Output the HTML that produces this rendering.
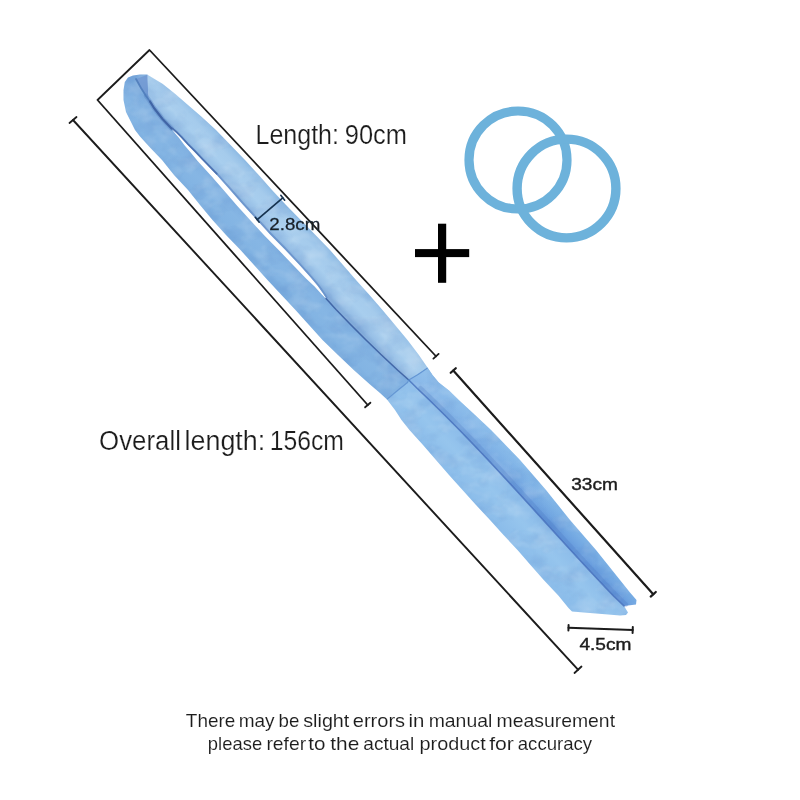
<!DOCTYPE html>
<html lang="en">
<head>
<meta charset="utf-8">
<title>Product size guide</title>
<style>
  html, body { margin: 0; padding: 0; background: #ffffff; }
  body { width: 800px; height: 800px; overflow: hidden; font-family: "Liberation Sans", sans-serif; }
  svg { display: block; position: absolute; left: 0; top: 0; }
  text { font-family: "Liberation Sans", sans-serif; fill: #1c1c1c; }
</style>
</head>
<body>
<svg width="800" height="800" viewBox="0 0 800 800">
  <defs>
    <!-- fabric: mottled texture + slight softness -->
    <filter id="fabric" x="0" y="0" width="800" height="800" filterUnits="userSpaceOnUse" color-interpolation-filters="sRGB">
      <feTurbulence type="fractalNoise" baseFrequency="0.045 0.06" numOctaves="3" seed="11" result="n"/>
      <feColorMatrix in="n" type="matrix" values="0 0 0 0 1  0 0 0 0 1  0 0 0 0 1  0.42 0 0 0 -0.19" result="hi"/>
      <feColorMatrix in="n" type="matrix" values="0 0 0 0 0.25  0 0 0 0 0.42  0 0 0 0 0.72  0 -0.34 0 0 0.185" result="lo"/>
      <feComposite in="hi" in2="SourceGraphic" operator="in" result="hiC"/>
      <feComposite in="lo" in2="SourceGraphic" operator="in" result="loC"/>
      <feMerge result="m"><feMergeNode in="SourceGraphic"/><feMergeNode in="loC"/><feMergeNode in="hiC"/></feMerge>
      <feGaussianBlur in="m" stdDeviation="0.65"/>
    </filter>
    <filter id="gapblur" x="0" y="0" width="800" height="800" filterUnits="userSpaceOnUse">
      <feGaussianBlur stdDeviation="0.75"/>
    </filter>
    <filter id="tubeline" x="0" y="0" width="800" height="800" filterUnits="userSpaceOnUse">
      <feGaussianBlur stdDeviation="0.5"/>
    </filter>
    <filter id="soft" x="-5%" y="-5%" width="110%" height="110%">
      <feGaussianBlur stdDeviation="0.55"/>
    </filter>
    <filter id="pen" x="0" y="0" width="800" height="800" filterUnits="userSpaceOnUse">
      <feTurbulence type="fractalNoise" baseFrequency="0.028" numOctaves="1" seed="5" result="w"/>
      <feDisplacementMap in="SourceGraphic" in2="w" scale="1.7" xChannelSelector="R" yChannelSelector="G" result="d"/>
      <feGaussianBlur in="d" stdDeviation="0.35"/>
    </filter>
    <filter id="softline" x="-5%" y="-5%" width="110%" height="110%">
      <feGaussianBlur stdDeviation="0.35"/>
    </filter>
    <filter id="softtext" x="-5%" y="-20%" width="110%" height="140%">
      <feGaussianBlur stdDeviation="0.3"/>
    </filter>
    <!-- across-strip shading (perpendicular to the tube direction) -->
    <linearGradient id="gLowerS1" gradientUnits="userSpaceOnUse" x1="234" y1="238" x2="257" y2="216.5">
      <stop offset="0" stop-color="#7dafe0"/>
      <stop offset="0.15" stop-color="#83b4e3"/>
      <stop offset="0.5" stop-color="#86b6e4"/>
      <stop offset="0.85" stop-color="#80b0e1"/>
      <stop offset="1" stop-color="#79a9dc"/>
    </linearGradient>
    <linearGradient id="gUpperS1" gradientUnits="userSpaceOnUse" x1="250" y1="212" x2="273" y2="190.5">
      <stop offset="0" stop-color="#86afdc"/>
      <stop offset="0.12" stop-color="#97bfe6"/>
      <stop offset="0.4" stop-color="#a8ceee"/>
      <stop offset="0.7" stop-color="#a5cbec"/>
      <stop offset="0.9" stop-color="#98c2e8"/>
      <stop offset="1" stop-color="#8ebae3"/>
    </linearGradient>
    <linearGradient id="gUpperS2" gradientUnits="userSpaceOnUse" x1="520" y1="493" x2="536" y2="478">
      <stop offset="0" stop-color="#6599dc"/>
      <stop offset="0.3" stop-color="#70a5e1"/>
      <stop offset="0.6" stop-color="#79aee4"/>
      <stop offset="1" stop-color="#84b8e8"/>
    </linearGradient>
    <linearGradient id="gLowerS2" gradientUnits="userSpaceOnUse" x1="500" y1="527" x2="528" y2="501">
      <stop offset="0" stop-color="#8cbdea"/>
      <stop offset="0.5" stop-color="#96c5ed"/>
      <stop offset="1" stop-color="#8bbbe9"/>
    </linearGradient>
    <!-- along-tube fade for section 2 upper strip: light near seam, dark to the end -->
    <linearGradient id="gAlongS2" gradientUnits="userSpaceOnUse" x1="420" y1="375" x2="555" y2="520">
      <stop offset="0" stop-color="#9ac6ee" stop-opacity="0.7"/>
      <stop offset="0.45" stop-color="#9ac6ee" stop-opacity="0.35"/>
      <stop offset="1" stop-color="#9ac6ee" stop-opacity="0"/>
    </linearGradient>
  </defs>
  <rect x="0" y="0" width="800" height="800" fill="#ffffff"/>

  <!-- ===== fabric tube ===== -->
  <g id="tube" filter="url(#fabric)">
    <path id="lowerS1" fill="url(#gLowerS1)" d="M147,74.6 L140,74.6 L133,75.6 L128,77.6 L124.8,82 L123.5,90 L123.5,100 L126,112 L131,122 L135,130 L140,136.5 L150,147.5 L162,160 L174,175 L188,190 L200,205 L212.5,220 L226,235 L240.5,250 L254,265 L267.5,280 L281.5,295 L295.5,310 L309,325 L322.5,340 L338,355 L353.75,370 L370,384.5 L380,393 L387,399.4 L407.5,382.5 L408.75,380 L397.5,370 L381.5,355 L366,340 L350,324 L336,309.5 L326,298.5 L326,298.5 L322.4,294 L316,286 L308.4,278 L297.2,266 L282,250 L267.2,235 L253.5,220 L239.8,205 L226.8,190 L213.6,175 L199.5,160 L192,151.5 L186,145 L180,137.8 L175.8,133.2 L171.6,128.8 L162.5,119.5 L155.5,111 L151,104.5 L148.8,99 L148,90 L147.6,80 L147.5,74.8 Z"/>
    <path id="upperS1" fill="url(#gUpperS1)" d="M147.5,74.8 L150,76.25 L162.5,83.75 L175,93.75 L188,105 L201,116.25 L216,130 L230.5,145 L245,160 L258.75,175 L272,190 L286,205 L300,219.3 L315,234.5 L330,250 L343,265 L356,280 L369.5,295 L382.5,310 L395,325 L407.5,340 L418.5,354.5 L427.5,367.5 L408.75,380 L397.5,370 L381.5,355 L366,340 L350,324 L336,309.5 L326,298.5 L326,298.5 L322.4,294 L316,286 L308.4,278 L297.2,266 L282,250 L267.2,235 L253.5,220 L239.8,205 L226.8,190 L213.6,175 L199.5,160 L192,151.5 L186,145 L180,137.8 L175.8,133.2 L171.6,128.8 L162.5,119.5 L155.5,111 L151,104.5 L148.8,99 L148,90 L147.6,80 L147.5,74.8 Z"/>
    <path id="upperS2" fill="url(#gUpperS2)" d="M427.5,367.5 L432.5,375 L438.75,382.5 L449,390.5 L458.75,400 L475,415 L491,430 L505.5,445 L520,460 L533,475 L546,490 L558,505 L570,520 L583,535 L596,550 L608,565 L620,580 L630,592.5 L636.5,600 L636,604.5 L624,606 L613.53,596 L607.79,590 L598.32,580 L584.31,565 L570.49,550 L556.8,535 L543.17,520 L529.54,505 L515.87,490 L502.07,475 L488.11,460 L473.91,445 L459.41,430 L444.57,415 L429.31,400 L418.87,390 L408.75,380 Z"/>
    <path id="upperS2fade" fill="url(#gAlongS2)" d="M427.5,367.5 L432.5,375 L438.75,382.5 L449,390.5 L458.75,400 L475,415 L491,430 L505.5,445 L520,460 L533,475 L546,490 L558,505 L570,520 L583,535 L596,550 L608,565 L620,580 L630,592.5 L636.5,600 L636,604.5 L624,606 L613.53,596 L607.79,590 L598.32,580 L584.31,565 L570.49,550 L556.8,535 L543.17,520 L529.54,505 L515.87,490 L502.07,475 L488.11,460 L473.91,445 L459.41,430 L444.57,415 L429.31,400 L418.87,390 L408.75,380 Z"/>
    <path id="lowerS2" fill="url(#gLowerS2)" d="M387,399.4 L395,410 L401.5,420 L409.5,430 L423,445 L436,460 L449,475 L462.5,490 L476,505 L490,520 L503.5,535 L517.5,550 L530.5,565 L543.75,580 L558.75,596 L568.5,608 L572,611.5 L620,615.5 L626,615 L628,612.5 L624,606 L613.53,596 L607.79,590 L598.32,580 L584.31,565 L570.49,550 L556.8,535 L543.17,520 L529.54,505 L515.87,490 L502.07,475 L488.11,460 L473.91,445 L459.41,430 L444.57,415 L429.31,400 L418.87,390 L408.75,380 L407.5,382.5 Z"/>
  </g>
  <g id="gap" filter="url(#gapblur)">
    <path fill="#ffffff" d="M171.6,128.8 L176.4,133.02 L180.9,137.53 L187.3,144.61 L193.7,150.99 L201.6,159.37 L216.1,174.25 L229.4,189.22 L242.5,204.19 L256.2,219.19 L269.8,234.22 L284.6,249.22 L299.7,265.25 L310.5,277.37 L317.4,285.58 L323.2,293.76 L326.2,298.44 L325.8,298.56 L321.6,294.24 L314.6,286.42 L306.3,278.63 L294.7,266.75 L279.4,250.78 L264.6,235.78 L250.8,220.81 L237.1,205.81 L224.2,190.78 L211.1,175.75 L197.4,160.63 L190.3,152.01 L184.7,145.39 L179.1,138.07 L175.2,133.38 L171.6,128.8 Z"/>
  </g>
  <g id="tubelines" filter="url(#tubeline)">
    <!-- fold shadow at the tip -->
    <path fill="#6f97d2" fill-opacity="0.8" d="M136,79 L141,88 L146,96 L150,101.5 L154,108 L162.5,119 L171.5,128.5 L162.5,119.5 L155.5,111 L151,104.5 L148.8,99 L148,90 L147.6,80 L147.5,74.8 Z"/>
    <path fill="none" stroke="#5c88c6" stroke-opacity="0.45" stroke-width="4.5" stroke-linecap="round" stroke-linejoin="round" d="M146,96 L150,101.5 L154,108 L162.5,119 L171.5,128.5"/>
    <path fill="none" stroke="#4a78b8" stroke-opacity="0.8" stroke-width="1.8" stroke-linecap="round" stroke-linejoin="round" d="M136,79 L141,88 L146,96 L150,101.5 L154,108 L162.5,119 L171.5,128.5"/>
    <path fill="none" stroke="#3b5c9e" stroke-opacity="0.75" stroke-width="2.2" stroke-linecap="round" stroke-linejoin="round" d="M150,101.5 L154,108 L162.5,119 L171.5,128.5"/>
    <!-- centre lines -->
    <path fill="none" stroke="#446fbc" stroke-opacity="0.22" stroke-width="5" stroke-linecap="round" stroke-linejoin="round" d="M420.47,388.5 L430.91,398.5 L446.17,413.5 L461.01,428.5 L475.51,443.5 L489.71,458.5 L503.67,473.5 L517.47,488.5 L531.14,503.5 L544.77,518.5 L558.4,533.5 L572.09,548.5 L585.91,563.5 L599.92,578.5 L609.39,588.5 L615.13,594.5 L625.6,604.5"/>
    <path fill="none" stroke="#34589c" stroke-opacity="0.85" stroke-width="1.5" stroke-linecap="round" stroke-linejoin="round" d="M326,298.5 L336,309.5 L350,324 L366,340 L381.5,355 L397.5,370 L408.75,380"/>
    <path fill="none" stroke="#3f6ab8" stroke-opacity="0.75" stroke-width="1.6" stroke-linecap="round" stroke-linejoin="round" d="M408.75,380 L418.87,390 L429.31,400 L444.57,415 L459.41,430 L473.91,445 L488.11,460 L502.07,475 L515.87,490 L529.54,505 L543.17,520 L556.8,535 L570.49,550 L584.31,565 L598.32,580 L607.79,590 L613.53,596 L624,606"/>
    <!-- shadow along gap edges -->
    <path fill="none" stroke="#5580c0" stroke-opacity="0.55" stroke-width="1.8" stroke-linejoin="round" d="M172.5,128.3 L177.3,132.52 L181.8,137.03 L188.2,144.11 L194.6,150.49 L202.5,158.87 L217,173.75 L230.3,188.72 L243.4,203.69 L257.1,218.69 L270.7,233.72 L285.5,248.72 L300.6,264.75 L311.4,276.87 L318.3,285.08 L324.1,293.26 L327.1,297.94"/>
    <path fill="none" stroke="#3f62a4" stroke-opacity="0.7" stroke-width="1.6" stroke-linejoin="round" stroke-linecap="round" d="M172.3,128.4 L177.1,132.62 L181.6,137.13 L188,144.21 L194.4,150.59 L202.3,158.97 L216.8,173.85"/>
    <!-- seam -->
    <path fill="none" stroke="#5b8ecf" stroke-opacity="0.85" stroke-width="1.2" stroke-linejoin="round" d="M387,399.4 L397,391 L407.5,382.5 L408.75,380 L418,374.5 L427.5,368"/>
  </g>

  <!-- ===== rings ===== -->
  <g id="rings" filter="url(#soft)" fill="none" stroke="#6db2db">
    <circle cx="518" cy="160" r="49" stroke-width="9.2"/>
    <circle cx="566.5" cy="188.5" r="49.4" stroke-width="9.4"/>
  </g>

  <!-- ===== plus ===== -->
  <g id="plus" fill="#050505" filter="url(#softline)">
    <rect x="415" y="249.1" width="54.2" height="8"/>
    <rect x="438" y="223.7" width="8.2" height="59.1"/>
  </g>

  <!-- ===== dimension lines ===== -->
  <g id="dims" fill="none" stroke="#1b1b1b" stroke-width="1.8" stroke-linecap="round" stroke-linejoin="round" filter="url(#pen)">
    <!-- bracket -->
    <path d="M367.75,405 L97.5,100 L149.5,50 L436,356.25"/>
    <path d="M365.1,407.3 L370.4,402.7"/>
    <path d="M433.4,358.6 L438.6,353.9"/>
    <!-- overall length -->
    <path d="M73,120 L578,669.7" stroke-width="1.9"/>
    <path d="M69.5,123 L76.5,117"/>
    <path d="M574.5,673 L581.5,666.5"/>
    <!-- 33cm -->
    <path d="M453.25,370.5 L653.25,594.3" stroke-width="2.2"/>
    <path d="M450.7,372.8 L455.8,368.2" stroke-width="2.2"/>
    <path d="M650.7,596.6 L655.8,592" stroke-width="2.2"/>
    <!-- 2.8cm -->
    <path d="M257.25,219.7 L282.75,197.8" stroke-width="1.7" stroke="#16324f"/>
    <path d="M255.3,217.3 L259.2,222.2" stroke-width="1.6" stroke="#16324f"/>
    <path d="M280.8,195.3 L284.7,200.2" stroke-width="1.6" stroke="#16324f"/>
    <!-- 4.5cm -->
    <path d="M568.5,627.75 L632.7,630" stroke-width="2"/>
    <path d="M568.6,625.1 L568.4,630.5" stroke-width="2"/>
    <path d="M632.8,627 L632.6,633" stroke-width="2"/>
  </g>

  <!-- ===== text ===== -->
  <g id="labels" filter="url(#softtext)">
    <text x="255.51" y="143.6" font-size="27" textLength="83.47" lengthAdjust="spacingAndGlyphs" stroke="#ffffff" stroke-width="0.2">Length:</text>
    <text x="344.76" y="143.6" font-size="27" textLength="62.22" lengthAdjust="spacingAndGlyphs" stroke="#ffffff" stroke-width="0.2">90cm</text>
    <text x="99.11" y="450" font-size="27" textLength="81.77" lengthAdjust="spacingAndGlyphs" stroke="#ffffff" stroke-width="0.2">Overall</text>
    <text x="184.61" y="450" font-size="27" textLength="80.57" lengthAdjust="spacingAndGlyphs" stroke="#ffffff" stroke-width="0.2">length:</text>
    <text x="269.71" y="450" font-size="27" textLength="74.27" lengthAdjust="spacingAndGlyphs" stroke="#ffffff" stroke-width="0.2">156cm</text>
    <text x="269.3" y="230.2" font-size="17" textLength="51" lengthAdjust="spacingAndGlyphs" fill="#16304d" stroke="#16304d" stroke-width="0.3">2.8cm</text>
    <text x="571.2" y="489.6" font-size="16.8" textLength="46.6" lengthAdjust="spacingAndGlyphs" stroke="#1c1c1c" stroke-width="0.4">33cm</text>
    <text x="579.4" y="649.6" font-size="16.8" textLength="52" lengthAdjust="spacingAndGlyphs" stroke="#1c1c1c" stroke-width="0.4">4.5cm</text>
    <text x="185.86" y="727.3" font-size="19" textLength="49.39" lengthAdjust="spacingAndGlyphs" stroke="#ffffff" stroke-width="0.1">There</text>
    <text x="238.66" y="727.3" font-size="19" textLength="35.89" lengthAdjust="spacingAndGlyphs" stroke="#ffffff" stroke-width="0.1">may</text>
    <text x="278.56" y="727.3" font-size="19" textLength="20.79" lengthAdjust="spacingAndGlyphs" stroke="#ffffff" stroke-width="0.1">be</text>
    <text x="303.25" y="727.3" font-size="19" textLength="46.09" lengthAdjust="spacingAndGlyphs" stroke="#ffffff" stroke-width="0.1">slight</text>
    <text x="352.75" y="727.3" font-size="19" textLength="52.39" lengthAdjust="spacingAndGlyphs" stroke="#ffffff" stroke-width="0.1">errors</text>
    <text x="408.56" y="727.3" font-size="19" textLength="15.89" lengthAdjust="spacingAndGlyphs" stroke="#ffffff" stroke-width="0.1">in</text>
    <text x="428.65" y="727.3" font-size="19" textLength="63.69" lengthAdjust="spacingAndGlyphs" stroke="#ffffff" stroke-width="0.1">manual</text>
    <text x="496.56" y="727.3" font-size="19" textLength="118.49" lengthAdjust="spacingAndGlyphs" stroke="#ffffff" stroke-width="0.1">measurement</text>
    <text x="207.86" y="750.1" font-size="19" textLength="54.29" lengthAdjust="spacingAndGlyphs" stroke="#ffffff" stroke-width="0.1">please</text>
    <text x="266.45" y="750.1" font-size="19" textLength="39.69" lengthAdjust="spacingAndGlyphs" stroke="#ffffff" stroke-width="0.1">refer</text>
    <text x="308.25" y="750.1" font-size="19" textLength="17.19" lengthAdjust="spacingAndGlyphs" stroke="#ffffff" stroke-width="0.1">to</text>
    <text x="330.25" y="750.1" font-size="19" textLength="28.99" lengthAdjust="spacingAndGlyphs" stroke="#ffffff" stroke-width="0.1">the</text>
    <text x="363.25" y="750.1" font-size="19" textLength="50.99" lengthAdjust="spacingAndGlyphs" stroke="#ffffff" stroke-width="0.1">actual</text>
    <text x="419.56" y="750.1" font-size="19" textLength="66.19" lengthAdjust="spacingAndGlyphs" stroke="#ffffff" stroke-width="0.1">product</text>
    <text x="489.15" y="750.1" font-size="19" textLength="24.69" lengthAdjust="spacingAndGlyphs" stroke="#ffffff" stroke-width="0.1">for</text>
    <text x="517.75" y="750.1" font-size="19" textLength="74.39" lengthAdjust="spacingAndGlyphs" stroke="#ffffff" stroke-width="0.1">accuracy</text>
  </g>
</svg>
</body>
</html>
